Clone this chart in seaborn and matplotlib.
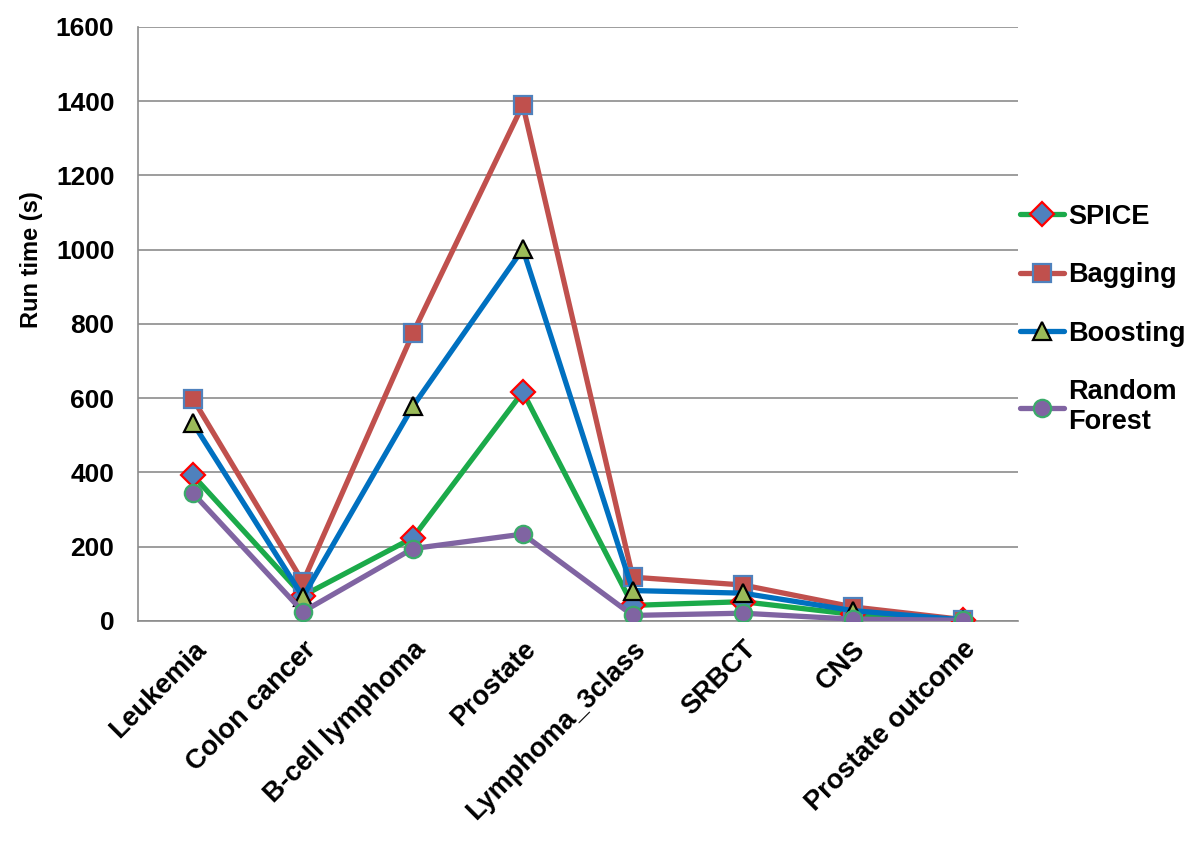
import matplotlib
matplotlib.use("Agg")
import matplotlib.pyplot as plt
import seaborn as sns
import pandas as pd

categories = ["Leukemia", "Colon cancer", "B-cell lymphoma", "Prostate",
              "Lymphoma_3class", "SRBCT", "CNS", "Prostate outcome"]
spice = [392, 68, 224, 617, 42, 52, 18, 3]
bagging = [598, 105, 775, 1390, 118, 97, 38, 4]
boosting = [533, 65, 578, 1002, 82, 75, 28, 3]
random_forest = [344, 25, 195, 234, 15, 21, 5, 2]

series_names = ["SPICE", "Bagging", "Boosting", "Random\nForest"]
series_values = [spice, bagging, boosting, random_forest]
line_colors = ["#1BAA4A", "#C0504D", "#0070C0", "#8064A2"]
marker_faces = ["#4F81BD", "#C0504D", "#9BBB59", "#8064A2"]
marker_edges = ["#FF0000", "#4F81BD", "#000000", "#3BAA6A"]
markers = ["D", "s", "^", "o"]
msizes = [12, 12.5, 12.5, 12.5]

sns.set_theme(style="white")
plt.rcParams['font.family'] = ['Liberation Sans', 'DejaVu Sans']
plt.rcParams['text.color'] = 'black'
plt.rcParams['axes.labelcolor'] = 'black'
plt.rcParams['xtick.labelcolor'] = 'black'
plt.rcParams['ytick.labelcolor'] = 'black'

fig = plt.figure(figsize=(12, 8.41), dpi=100)
ax = fig.add_axes([0.115, 0.2616, 0.733, 0.7064])

for i, (name, vals) in enumerate(zip(series_names, series_values)):
    df = pd.DataFrame({"x": list(range(len(categories))), "y": vals})
    sns.lineplot(data=df, x="x", y="y", ax=ax, color=line_colors[i],
                 linewidth=3.8, marker=markers[i], markersize=msizes[i],
                 markerfacecolor=marker_faces[i], markeredgecolor=marker_edges[i],
                 markeredgewidth=1.6, label=name, zorder=3 + i)

ax.set_xlim(-0.5, len(categories) - 0.5)
ax.set_ylim(0, 1600)
ax.set_yticks(range(0, 1601, 200))
ax.yaxis.grid(True, color="#8C8C8C", linewidth=1.2)
ax.set_axisbelow(True)

ax.set_xticks(range(len(categories)))
ax.set_xticklabels(categories, rotation=45, ha="right", rotation_mode="anchor",
                   fontsize=19.5, fontweight="bold")
ax.set_xticks([k - 0.5 for k in range(len(categories) + 1)], minor=True)
ax.tick_params(axis="x", which="major", length=0, pad=11)
ax.tick_params(axis="x", which="minor", length=6.5, width=1.2, color="#8C8C8C", direction="out")
ax.tick_params(axis="y", which="major", length=5, width=1.2, color="#8C8C8C",
               direction="out", labelsize=19, pad=12)
for lab in ax.get_yticklabels():
    lab.set_fontweight("bold")

for s in ["top", "right"]:
    ax.spines[s].set_visible(False)
for s in ["left", "bottom"]:
    ax.spines[s].set_color("#8C8C8C")
    ax.spines[s].set_linewidth(1.2)

ax.set_xlabel("")
ax.set_ylabel("Run time (s)", fontsize=17, fontweight="bold")
ax.yaxis.set_label_coords(-0.108, 0.608)

handles, labels = ax.get_legend_handles_labels()
ax.legend_.remove()
leg = fig.legend(handles, labels, loc="upper left", bbox_to_anchor=(0.83, 0.787),
                 frameon=False, labelspacing=1.2, handlelength=1.6,
                 handletextpad=0.15, prop={"weight": "bold", "size": 19.5})

fig.savefig("out.png", dpi=100)
